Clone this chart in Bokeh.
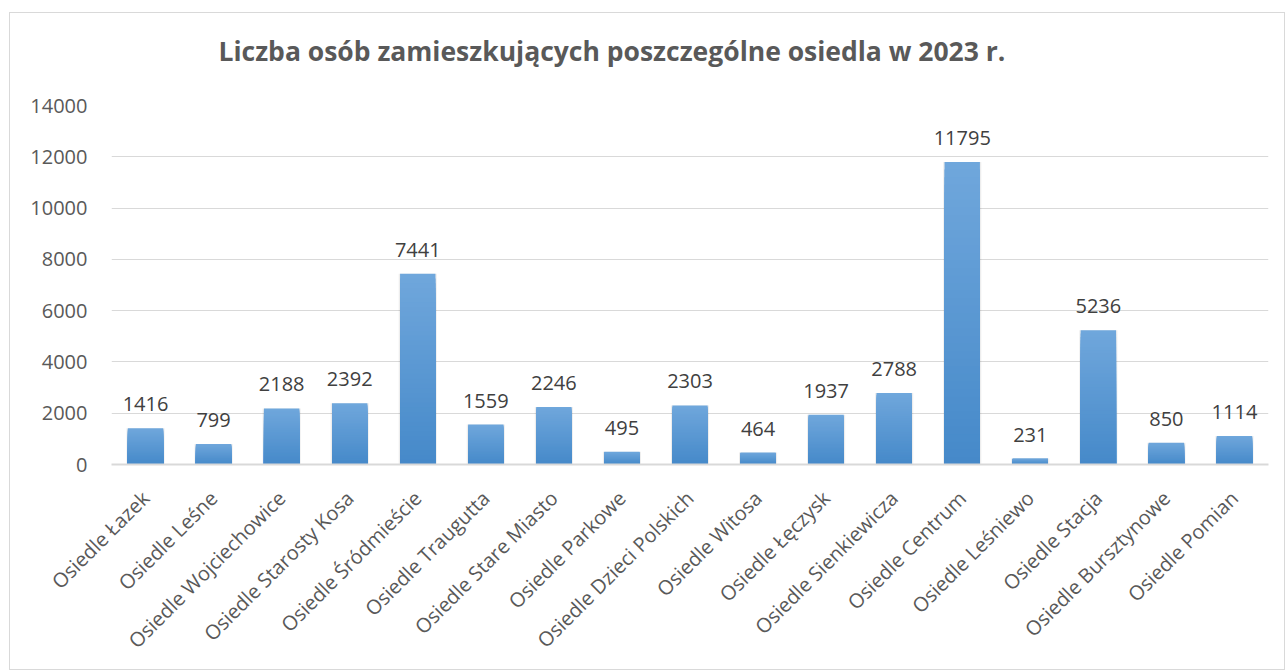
from math import pi
from bokeh.plotting import figure
from bokeh.models import ColumnDataSource, LabelSet, Title, FactorRange, FixedTicker
from bokeh.core.properties import value
from bokeh.embed import file_html
from bokeh.resources import INLINE

# ---- data ----
categories = [
    "Osiedle Łazek", "Osiedle Leśne", "Osiedle Wojciechowice", "Osiedle Starosty Kosa",
    "Osiedle Śródmieście", "Osiedle Traugutta", "Osiedle Stare Miasto", "Osiedle Parkowe",
    "Osiedle Dzieci Polskich", "Osiedle Witosa", "Osiedle Łęczysk", "Osiedle Sienkiewicza",
    "Osiedle Centrum", "Osiedle Leśniewo", "Osiedle Stacja", "Osiedle Bursztynowe",
    "Osiedle Pomian",
]
values = [1416, 799, 2188, 2392, 7441, 1559, 2246, 495, 2303, 464, 1937, 2788,
          11795, 231, 5236, 850, 1114]
y_ticks = [0, 2000, 4000, 6000, 8000, 10000, 12000, 14000]
title_text = "Liczba osób zamieszkujących poszczególne osiedla w 2023 r."

FONT = "Open Sans"

p = figure(
    title=None,
    x_range=FactorRange(*categories), y_range=(0, 14000),
    width=1276, height=658, output_backend="svg", toolbar_location=None,
    min_border_left=101, min_border_right=18, min_border_top=10, min_border_bottom=207,
    background_fill_color="white", border_fill_color="white",
)
p.styles = {"border": "1px solid #d9d9d9", "margin-left": "9px", "margin-top": "12px"}
p.outline_line_color = None

# spacer (closest to the frame), then the main title above it
spacer = Title(text=" ", text_font_size="8px", standoff=8)
p.add_layout(spacer, "above")
main_title = Title(text=title_text, align="left", offset=107, standoff=35,
                   text_font=FONT, text_font_style="bold", text_font_size="26.5px",
                   text_color="#595959")
p.add_layout(main_title, "above")

# shadow
p.vbar(x=categories, top=values, width=0.56, fill_color="#000000", fill_alpha=0.07, line_alpha=0)

# gradient bars: overlapping cumulative bars, drawn from full height down
N = 40
top_rgb = (0x70, 0xA7, 0xDC)
bot_rgb = (0x45, 0x89, 0xC9)
for k in range(N - 1, -1, -1):
    t = (k + 0.5) / N
    rgb = tuple(int(round(b + (a - b) * t)) for a, b in zip(top_rgb, bot_rgb))
    col = "#%02x%02x%02x" % rgb
    src = ColumnDataSource(dict(x=categories, top=[v * (k + 1) / N for v in values]))
    p.vbar(x="x", bottom=0, top="top", width=0.52, source=src,
           fill_color=col, line_color=None)

# data labels
lab_src = ColumnDataSource(dict(x=categories, y=values, t=[str(v) for v in values]))
labels = LabelSet(x="x", y="y", text="t", source=lab_src, y_offset=17,
                  text_align="center", text_baseline="alphabetic",
                  text_font=value(FONT), text_font_size=value("20px"),
                  text_color="#404040")
p.add_layout(labels)

# axes
p.yaxis.ticker = FixedTicker(ticks=y_ticks)
p.yaxis.axis_line_color = None
p.yaxis.major_tick_line_color = None
p.yaxis.minor_tick_line_color = None
p.yaxis.major_label_standoff = 18
p.yaxis.major_label_text_font = FONT
p.yaxis.major_label_text_font_size = "20px"
p.yaxis.major_label_text_color = "#595959"

p.xaxis.axis_line_color = "#d9d9d9"
p.xaxis.axis_line_width = 2
p.xaxis.major_tick_line_color = None
p.xaxis.minor_tick_line_color = None
p.xaxis.major_label_orientation = pi / 4
p.xaxis.major_label_standoff = 24
p.xaxis.major_label_text_font = FONT
p.xaxis.major_label_text_font_size = "20px"
p.xaxis.major_label_text_color = "#595959"

p.xgrid.grid_line_color = None
p.ygrid.ticker = FixedTicker(ticks=y_ticks)
p.ygrid.grid_line_color = "#d9d9d9"
p.ygrid.grid_line_width = 1

open("out.html", "w").write(file_html(p, INLINE))
